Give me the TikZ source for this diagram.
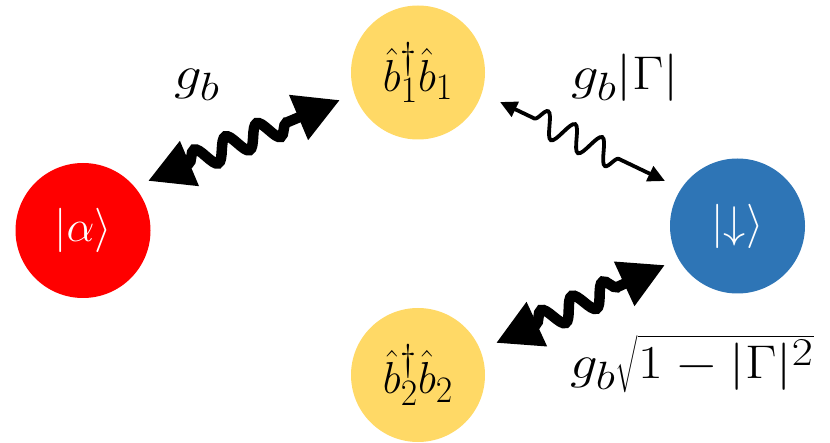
\documentclass[tikz,border=0pt]{standalone}
\usepackage{graphicx}
\usetikzlibrary{decorations.pathmorphing,arrows.meta}
\definecolor{cred}{HTML}{FF0000}
\definecolor{cyel}{HTML}{FFD966}
\definecolor{cblue}{HTML}{2E75B6}
\newcommand{\statemath}[1]{\scalebox{1.78}{$#1$}}
\newcommand{\opmath}[1]{\scalebox{1.72}[1.8]{$#1$}}
\newcommand{\labmath}[1]{\scalebox{2.2}[1.9]{$#1$}}
\begin{document}
\begin{tikzpicture}[x=1pt,y=1pt,
  state/.style={circle,minimum size=135pt,inner sep=0pt,text=white,font=\fontsize{24.88}{30}\selectfont},
  ystate/.style={circle,minimum size=134pt,inner sep=0pt,fill=cyel,font=\fontsize{24.88}{30}\selectfont},
  lab/.style={inner sep=0pt,font=\fontsize{24.88}{30}\selectfont},
  thickwave/.style={line width=10.5pt,decorate,
    decoration={snake,amplitude=11pt,segment length=34pt,pre length=44pt,post length=44pt},
    {Triangle[length=45pt,width=46pt]}-{Triangle[length=45pt,width=46pt]}},
  thinwave/.style={line width=3.8pt,decorate,
    decoration={snake,amplitude=12.5pt,segment length=30pt,pre length=38pt,post length=44pt},
    {Triangle[length=17pt,width=16pt]}-{Triangle[length=17pt,width=16pt]}}]
\useasboundingbox (0,0) rectangle (830,442);
\node[state,fill=cred] (alpha) at (83,211.5) {\statemath{|\alpha\rangle}};
\node[ystate] (b1) at (418,369.5) {\opmath{\hat{b}_1^{\dagger}\hat{b}_1}};
\node[state,fill=cblue] (down) at (737.5,216) {\statemath{|{\downarrow}\rangle}};
\node[ystate] (b2) at (418,67) {\opmath{\hat{b}_2^{\dagger}\hat{b}_2}};
\coordinate (w1s) at (148,261);
\coordinate (w1e) at (340,342);
\coordinate (w2s) at (500,340);
\coordinate (w2e) at (665,261);
\coordinate (w3s) at (496,99);
\coordinate (w3e) at (665,177);
\draw[thickwave] (w1s) -- (w1e);
\draw[thinwave] (w2s) -- (w2e);
\draw[thickwave] (w3s) -- (w3e);
\node[lab] (l1) at (197,357.5) {\labmath{g_b}};
\node[lab] (l2) at (625,364) {\labmath{g_b|\Gamma|}};
\node[lab] (l3) at (692,78) {\labmath{g_b\sqrt{1-|\Gamma|^2}}};
\end{tikzpicture}
\end{document}
